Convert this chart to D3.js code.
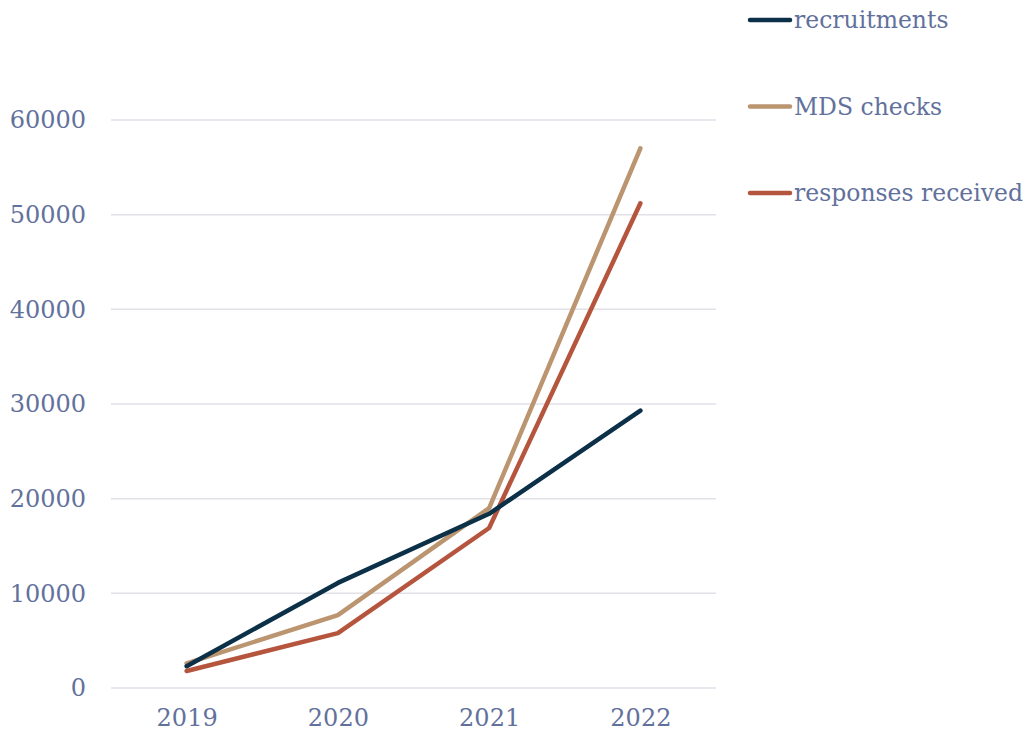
<!DOCTYPE html>
<html>
<head>
<meta charset="utf-8">
<script src="https://cdn.jsdelivr.net/npm/d3@7"></script>
<style>
  body { margin: 0; background: #fff; }
  svg text { font-family: "DejaVu Serif", serif; fill: #62719c; }
</style>
</head>
<body>
<svg></svg>
<script>
// chart data
const years = ["2019", "2020", "2021", "2022"];
const recruitments = [2300, 11100, 18400, 29300];
const mdsChecks = [2600, 7700, 19000, 57000];
const responsesReceived = [1800, 5800, 16900, 51200];
const yTicks = [0, 10000, 20000, 30000, 40000, 50000, 60000];

const seriesNames = ["recruitments", "MDS checks", "responses received"];
const seriesColors = ["#0b3048", "#bb9470", "#b5553d"];
const seriesValues = [recruitments, mdsChecks, responsesReceived];

const svg = d3.select("svg").attr("width", 1027).attr("height", 739);

const margin = { top: 120, right: 311, bottom: 51, left: 111 };
const graphWidth = 1027 - margin.left - margin.right;
const graphHeight = 739 - margin.top - margin.bottom;

const graph = svg
  .append("g")
  .attr("transform", `translate(${margin.left}, ${margin.top})`);

const x = d3.scalePoint().domain(years).range([0, graphWidth]).padding(0.5);
const y = d3.scaleLinear().domain([0, 60000]).range([graphHeight, 0]);

// gridlines
graph
  .selectAll("line.grid")
  .data(yTicks)
  .enter()
  .append("line")
  .attr("class", "grid")
  .attr("x1", 0)
  .attr("x2", graphWidth)
  .attr("y1", (d) => y(d))
  .attr("y2", (d) => y(d))
  .attr("stroke", "#e2e1e8")
  .attr("stroke-width", 1.5);

const yAxis = d3
  .axisLeft(y)
  .tickValues(yTicks)
  .tickFormat((d) => d)
  .tickSize(0)
  .tickPadding(25);
const yAxisGroup = graph.append("g").call(yAxis);
yAxisGroup.select(".domain").remove();
yAxisGroup.selectAll("text").style("font-size", "24px");

const xAxis = d3.axisBottom(x).tickSize(0).tickPadding(21);
const xAxisGroup = graph
  .append("g")
  .attr("transform", `translate(0, ${graphHeight})`)
  .call(xAxis);
xAxisGroup.select(".domain").remove();
xAxisGroup.selectAll("text").style("font-size", "24px");

const line = d3
  .line()
  .x((d, i) => x(years[i]))
  .y((d) => y(d));

// draw series so recruitments sits on top like the original
const order = [2, 1, 0];
order.forEach((k) => {
  graph
    .append("path")
    .datum(seriesValues[k])
    .attr("d", line)
    .attr("fill", "none")
    .attr("stroke", seriesColors[k])
    .attr("stroke-width", 4.5)
    .attr("stroke-linecap", "round")
    .attr("stroke-linejoin", "round");
});

// legend
const legend = svg
  .selectAll("g.legend")
  .data(seriesNames)
  .enter()
  .append("g")
  .attr("class", "legend")
  .attr("transform", (d, i) => `translate(750, ${20 + i * 86.5})`);

legend
  .append("line")
  .attr("x1", 0)
  .attr("x2", 40)
  .attr("stroke", (d, i) => seriesColors[i])
  .attr("stroke-width", 4.5)
  .attr("stroke-linecap", "round");

legend
  .append("text")
  .attr("x", 44)
  .attr("dy", "0.35em")
  .style("font-size", "23.5px")
  .text((d) => d);
</script>
</body>
</html>
